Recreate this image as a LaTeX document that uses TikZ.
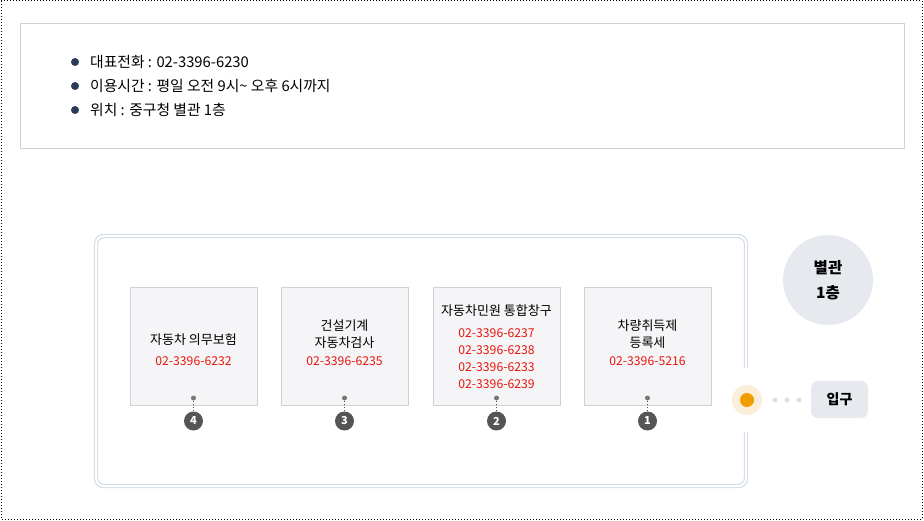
\documentclass[tikz,border=0pt]{standalone}
\usepackage{fontspec}
\setmainfont{Noto Sans CJK KR}
\definecolor{navy}{HTML}{2B3A55}
\definecolor{telred}{HTML}{E8160C}
\definecolor{boxfill}{HTML}{F5F5F7}
\definecolor{boxline}{HTML}{D2D2D6}
\definecolor{frameline}{HTML}{D3DCE8}
\definecolor{badge}{HTML}{555555}
\definecolor{pale}{HTML}{E6E9EE}
\definecolor{orangedot}{HTML}{F39C00}
\definecolor{orangering}{HTML}{FBEFDC}
\begin{document}
\begin{tikzpicture}[x=1pt,y=-1pt]
\useasboundingbox (0,0) rectangle (924,521);
\draw [dotted,line width=1pt] (1,1) rectangle (922,519);
\begin{scope}[bullet/.style={circle,fill=navy,inner sep=0pt,minimum size=8pt},
              infotext/.style={anchor=west,inner sep=0pt,font=\fontsize{14.8}{17}\selectfont}]
    \node [draw=boxline,line width=0.8pt,minimum width=884pt,minimum height=125pt,anchor=north west] (info) at (20,23) {};
    \node [bullet] (b1) at (75,62) {};
    \node [bullet] (b2) at (75,86) {};
    \node [bullet] (b3) at (75,110) {};
    \node [infotext] (t1) at (90,62) {대표전화 : 02-3396-6230};
    \node [infotext] (t2) at (90,86) {이용시간 : 평일 오전 9시\textasciitilde{} 오후 6시까지};
    \node [infotext] (t3) at (90,110) {위치 : 중구청 별관 1층};
\end{scope}
% frame with the gap for the entrance
\draw [frameline,line width=1.2pt,double=white,double distance=2pt,rounded corners=8pt]
    (746,432) -- (746,486) -- (96,486) -- (96,236) -- (746,236) -- (746,368);
\begin{scope}[room/.style={rectangle,draw=boxline,fill=boxfill,line width=0.8pt,minimum width=127pt,minimum height=118pt},
              title/.style={align=center,inner sep=0pt,font=\fontsize{13}{17}\selectfont},
              tel/.style={align=center,inner sep=0pt,text=telred,font=\fontsize{12.2}{17}\selectfont},
              pin/.style={circle,fill=badge!80,inner sep=0pt,minimum size=5pt},
              num/.style={circle,fill=badge,text=white,inner sep=0pt,minimum size=19pt,font=\fontsize{11}{11}\selectfont\bfseries},
              link/.style={dotted,badge,line width=1pt}]
    \node [room] (r4) at (193.5,346) {};
    \node [room] (r3) at (344.5,346) {};
    \node [room] (r2) at (496.5,346) {};
    \node [room] (r1) at (647.5,346) {};
    \node [title] (n4) at (193.5,340) {자동차 의무보험};
    \node [tel] (p4) at (193.5,361) {02-3396-6232};
    \node [title] (n3) at (344.5,334.5) {건설기계\\자동차검사};
    \node [tel] (p3) at (344.5,361) {02-3396-6235};
    \node [title] (n2) at (496.5,311) {자동차민원 통합창구};
    \node [tel] (p2) at (496.5,358.5) {02-3396-6237\\02-3396-6238\\02-3396-6233\\02-3396-6239};
    \node [title] (n1) at (647.5,334.5) {차량취득제\\등록세};
    \node [tel] (p1) at (647.5,361) {02-3396-5216};
    \node [pin] (d4) at (193.5,398) {};
    \node [pin] (d3) at (344.5,398) {};
    \node [pin] (d2) at (496.5,398) {};
    \node [pin] (d1) at (647.5,398) {};
    \node [num] (c4) at (193.5,421) {4};
    \node [num] (c3) at (344.5,421) {3};
    \node [num] (c2) at (496.5,421) {2};
    \node [num] (c1) at (647.5,421) {1};
    \draw [link] (d4) -- (c4);
    \draw [link] (d3) -- (c3);
    \draw [link] (d2) -- (c2);
    \draw [link] (d1) -- (c1);
\end{scope}
\begin{scope}[step dot/.style={circle,fill=pale!90!gray,inner sep=0pt,minimum size=5pt}]
    \node [circle,fill=pale,minimum size=90pt,align=center,inner sep=0pt,
           font=\fontsize{15.5}{25}\selectfont\bfseries] (annex) at (828,280) {별관\\1층};
    \node [circle,fill=orangering,minimum size=30pt,inner sep=0pt] (door) at (747,400) {};
    \node [circle,fill=orangedot,minimum size=14pt,inner sep=0pt] (doorin) at (747,400) {};
    \node [step dot] (s1) at (775,400) {};
    \node [step dot] (s2) at (787,400) {};
    \node [step dot] (s3) at (799,400) {};
    \node [rectangle,rounded corners=7pt,fill=pale,minimum width=57pt,minimum height=37pt,
           font=\fontsize{14}{14}\selectfont\bfseries] (entry) at (839.5,399.5) {입구};
\end{scope}
\end{tikzpicture}
\end{document}
